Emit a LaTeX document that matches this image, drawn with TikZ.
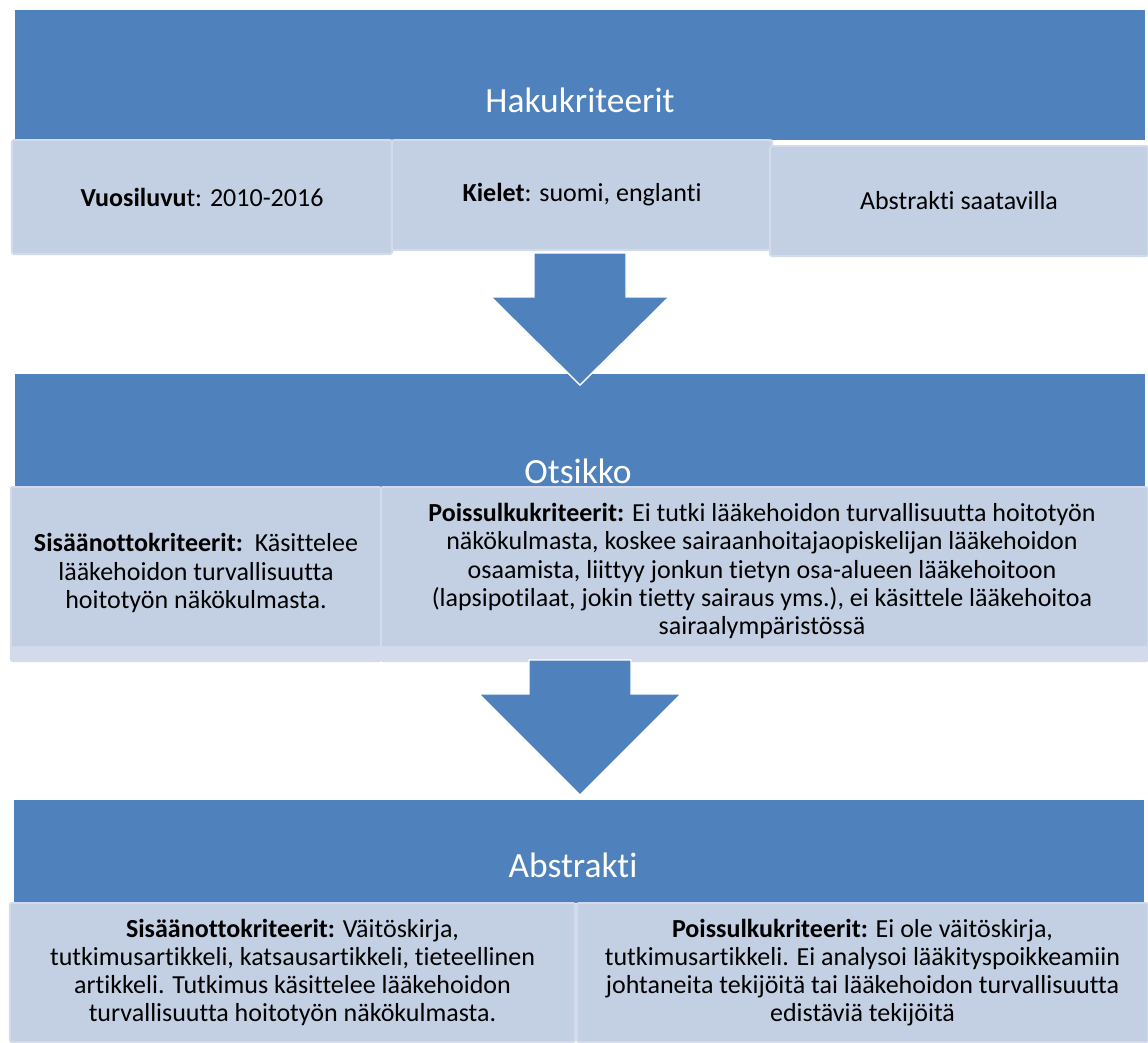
\documentclass[tikz,border=0pt]{standalone}
\usepackage{fontspec}
\setmainfont{Carlito}[RawFeature={-liga;-clig;-calt;-dlig}]
\usepackage{tikz}
\usetikzlibrary{positioning}
\usetikzlibrary{calc}
\usepackage{xcolor}
\definecolor{bannerblue}{HTML}{4F81BD}
\definecolor{boxfill}{HTML}{C3CFE3}
\definecolor{boxedge}{HTML}{D2DAEB}

\begin{document}
\begin{tikzpicture}[
  x=0.025cm, y=-0.025cm,
  font=\fontsize{18.5}{20}\selectfont,
  banner/.style={fill=bannerblue, draw=none, minimum width=28.25cm, inner sep=0pt},
  title/.style={text=white, font=\fontsize{25.2}{28}\selectfont, anchor=base, inner sep=0pt},
  box/.style={fill=boxfill, draw=boxedge, line width=1.4pt, rounded corners=1.5pt, align=center, inner sep=0pt},
  stripbox/.style={box, fill=boxedge, path picture={
      \fill[boxfill] (path picture bounding box.north west) rectangle ([yshift=0.375cm]path picture bounding box.south east);}},
  blockarrow/.style={fill=bannerblue, draw=white, line width=1pt, line join=miter}
]
\useasboundingbox (0,0) rectangle (1148,1042);

% stage 1
\node[banner, minimum height=3.25cm] (hak) at (580,75) {};
\node[title] (hakt) at (580,112) {Hakukriteerit};
\node[box, minimum width=9.5cm, minimum height=2.85cm] (vuosi) at (202,197) {\textbf{Vuosiluvu}t: 2010-2016};
\node[box, minimum width=9.5cm, minimum height=2.75cm] (kieli) at (582,195) {\textbf{Kielet}: suomi, englanti};
\node[box, minimum width=9.45cm, minimum height=2.75cm] (abssaat) at (959,201) {Abstrakti saatavilla};

% stage 2
\node[banner, minimum height=2.85cm] (ots) at (580,431) {};
\node[title] (otst) at (578,483) {Otsikko};
\node[stripbox, minimum width=9.25cm, minimum height=4.35cm] (otsin) at (196,574) {};
\node[align=center] (otsintxt) at (196,573) {\textbf{Sisäänottokriteerit:}\ \ Käsittelee\\lääkehoidon turvallisuutta\\hoitotyön näkökulmasta.};
\node[stripbox, minimum width=19.175cm, minimum height=4.35cm] (otsout) at (764.5,574) {};
\node[align=center] (otsouttxt) at (762,571) {\textbf{Poissulkukriteerit:} Ei tutki lääkehoidon turvallisuutta hoitotyön\\näkökulmasta, koskee sairaanhoitajaopiskelijan lääkehoidon\\osaamista, liittyy jonkun tietyn osa-alueen lääkehoitoon\\(lapsipotilaat, jokin tietty sairaus yms.), ei käsittele lääkehoitoa\\sairaalympäristössä};

% stage 3
\node[banner, minimum height=2.575cm] (abs) at (579,851.5) {};
\node[title] (abst) at (573,877) {Abstrakti};
\node[box, minimum width=14.125cm, minimum height=3.475cm] (absin) at (292.5,972.5) {\textbf{Sisäänottokriteerit:} Väitöskirja,\\tutkimusartikkeli, katsausartikkeli, tieteellinen\\artikkeli. Tutkimus käsittelee lääkehoidon\\turvallisuutta hoitotyön näkökulmasta.};
\node[box, minimum width=14.275cm, minimum height=3.475cm] (absout) at (862.5,972.5) {\textbf{Poissulkukriteerit:} Ei ole väitöskirja,\\tutkimusartikkeli. Ei analysoi lääkityspoikkeamiin\\johtaneita tekijöitä tai lääkehoidon turvallisuutta\\edistäviä tekijöitä};

% arrows between stages
\coordinate (a1top) at (580,253);
\coordinate (a1tip) at (580,385);
\draw[blockarrow] (a1top) ++(-46,0) -- ++(0,44) -- ++(-43,0) -- (a1tip)
  -- ($(a1top)+(89,44)$) -- ++(-43,0) -- ++(0,-44) -- cycle;
\coordinate (a2top) at (580,660);
\coordinate (a2tip) at (580,795);
\draw[blockarrow] (a2top) ++(-51,0) -- ++(0,34) -- ++(-50,0) -- (a2tip)
  -- ($(a2top)+(101,34)$) -- ++(-50,0) -- ++(0,-34) -- cycle;

\end{tikzpicture}
\end{document}
